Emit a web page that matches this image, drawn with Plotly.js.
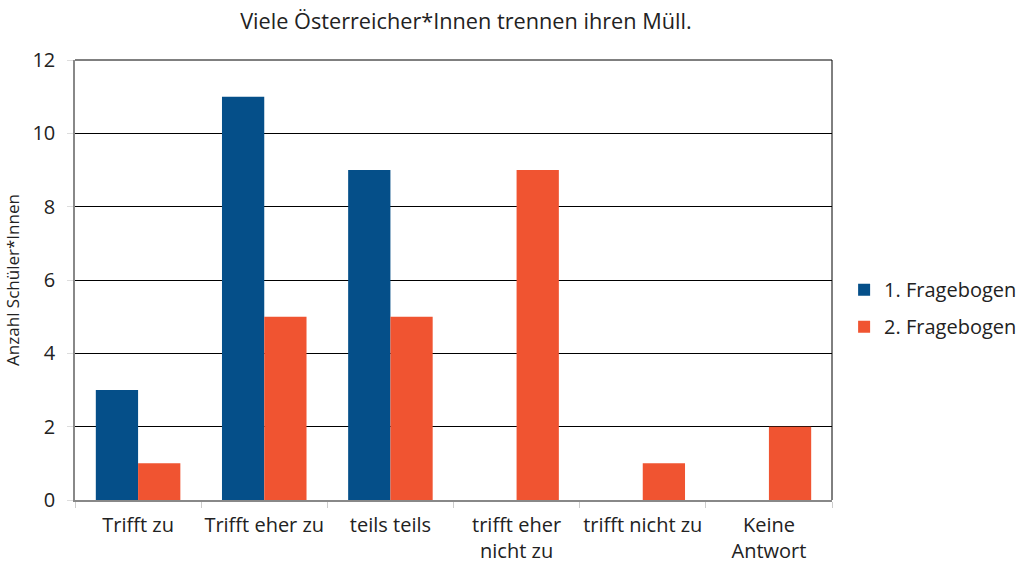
<!DOCTYPE html>
<html><head><meta charset="utf-8">
<script src="https://cdn.plot.ly/plotly-3.0.1.min.js"></script>
<style>html,body{margin:0;padding:0;background:#fff}#chart{width:1024px;height:566px}</style>
</head><body><div id="chart"></div>
<script>
const categories = ["Trifft zu", "Trifft eher zu", "teils teils", "trifft eher<br>nicht zu", "trifft nicht zu", "Keine<br>Antwort"];
const seriesNames = ["1. Fragebogen", "2. Fragebogen"];
const fragebogen1 = [3, 11, 9, 0, 0, 0];
const fragebogen2 = [1, 5, 5, 9, 1, 2];
const colors = ["#054F89", "#F05431"];

const fontFam = "'Open Sans', sans-serif";
const traces = [fragebogen1, fragebogen2].map((vals, i) => ({
  type: "bar", x: categories, y: vals, name: seriesNames[i], legendgroup: "g" + i,
  marker: {color: colors[i], line: {width: 0}}
}));

const layout = {
  width: 1024, height: 566,
  margin: {l: 75, r: 192, t: 60, b: 66, autoexpand: false},
  paper_bgcolor: "#fff", plot_bgcolor: "#fff",
  font: {family: fontFam, color: "#222", size: 20},
  title: {text: "Viele Österreicher*Innen trennen ihren Müll.", x: 0.455, xanchor: "center", y: 0.962, yanchor: "middle", font: {size: 21.7, color: "#222"}},
  barmode: "group", bargap: 0.33, bargroupgap: 0,
  xaxis: {type: "category", tickson: "boundaries", ticks: "outside", ticklen: 6, tickcolor: "#ccc",
          showline: true, linecolor: "#888", linewidth: 1.5, mirror: false, showgrid: false,
          tickangle: 0, automargin: false,
          ticklabelstandoff: 6, tickfont: {size: 20, color: "#222"}},
  yaxis: {range: [0, 12], dtick: 2, ticks: "outside", ticklen: 6, tickcolor: "#ddd",
          showline: true, linecolor: "#888", linewidth: 1.5, gridcolor: "#000", gridwidth: 1,
          zeroline: false, ticklabelstandoff: 8, tickfont: {size: 20, color: "#222"},
          title: {text: "Anzahl Schüler*Innen", font: {size: 17, color: "#222"}, standoff: 8}},
  shapes: [
    {type: "line", xref: "paper", yref: "paper", x0: 1, x1: 1, y0: 0, y1: 1, line: {color: "#000", width: 1}},
    {type: "line", xref: "paper", yref: "paper", x0: 0, x1: 1, y0: 1, y1: 1, line: {color: "#000", width: 1}}
  ],
  legend: {x: 1.016, xanchor: "left", y: 0.436, yanchor: "middle", font: {size: 20, color: "#222"},
           traceorder: "grouped", tracegroupgap: 8, itemwidth: 30},
  showlegend: true
};
Plotly.newPlot("chart", traces, layout, {displayModeBar: false});
</script></body></html>
